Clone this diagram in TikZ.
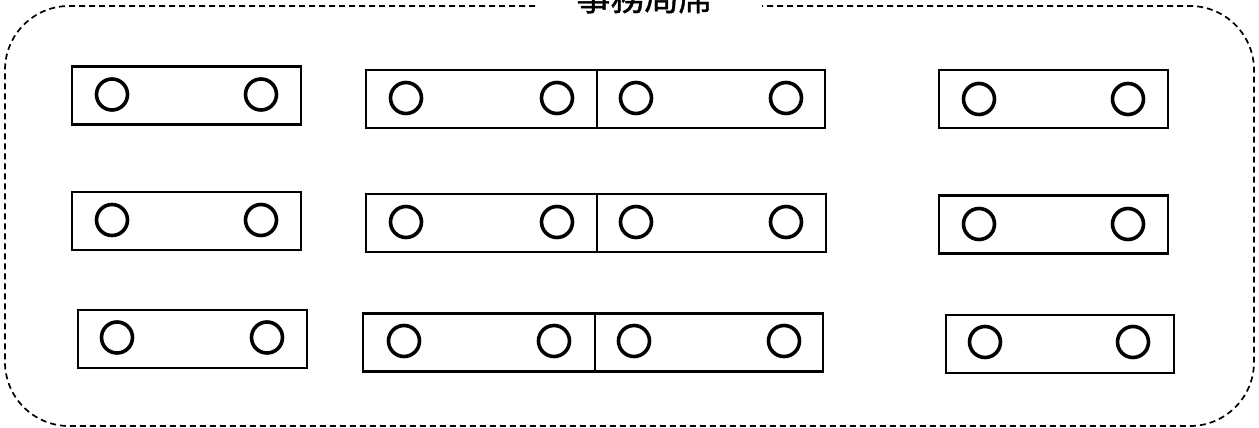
\documentclass[tikz,border=0pt]{standalone}
\usepackage{fontspec}
\newfontfamily\cjk[FakeBold=1.2]{Noto Sans CJK JP}
\begin{document}
\begin{tikzpicture}[x=1pt,y=-1pt,
  seat/.style={draw, line width=2.2pt, inner sep=0pt, minimum height=58pt},
  hole/.style={circle, draw, line width=3.6pt, minimum size=31pt, inner sep=0pt},
  frame/.style={dashed, dash pattern=on 6pt off 4pt, line width=1.7pt, rounded corners=64pt}]
\useasboundingbox (0,0) rectangle (1259,428);
% outer frame
\coordinate (fl) at (535,6);
\coordinate (fr) at (762,6);
\draw[frame] (fl) -- (5,6) -- (5,426) -- (1254,426) -- (1254,6) -- (fr);
\node[font=\cjk\fontsize{34pt}{40pt}\selectfont, anchor=base, inner sep=0pt] (title) at (644.5,10.5) {事務局席};
% row 1
\node[seat, minimum width=229pt] (a1) at (186.5,95.5) {};
\node[hole] (a1l) at (112,94.5) {};
\node[hole] (a1r) at (261,94.5) {};
\node[seat, minimum width=231pt] (b1l) at (481.5,99) {};
\node[seat, minimum width=228pt] (b1r) at (711,99) {};
\node[hole] (b1a) at (406,98) {};
\node[hole] (b1b) at (557,98) {};
\node[hole] (b1c) at (636,98) {};
\node[hole] (b1d) at (786,98) {};
\node[seat, minimum width=229pt] (c1) at (1053.5,99) {};
\node[hole] (c1l) at (979,99) {};
\node[hole] (c1r) at (1128,99) {};
% row 2
\node[seat, minimum width=229pt] (a2) at (186.5,221) {};
\node[hole] (a2l) at (112,220) {};
\node[hole] (a2r) at (261,220) {};
\node[seat, minimum width=231pt] (b2l) at (481.5,223) {};
\node[seat, minimum width=229pt] (b2r) at (711.5,223) {};
\node[hole] (b2a) at (406,222) {};
\node[hole] (b2b) at (557,222) {};
\node[hole] (b2c) at (636,222) {};
\node[hole] (b2d) at (786,222) {};
\node[seat, minimum width=229pt] (c2) at (1053.5,224.5) {};
\node[hole] (c2l) at (979,224) {};
\node[hole] (c2r) at (1128,224) {};
% row 3
\node[seat, minimum width=229pt] (a3) at (192.5,339) {};
\node[hole] (a3l) at (117,337.5) {};
\node[hole] (a3r) at (267,337.5) {};
\node[seat, minimum width=232pt] (b3l) at (479,342.5) {};
\node[seat, minimum width=228pt] (b3r) at (709,342.5) {};
\node[hole] (b3a) at (404,341) {};
\node[hole] (b3b) at (554,341) {};
\node[hole] (b3c) at (634,341) {};
\node[hole] (b3d) at (784,341) {};
\node[seat, minimum width=228pt] (c3) at (1060,344) {};
\node[hole] (c3l) at (985,342) {};
\node[hole] (c3r) at (1133,342) {};
\end{tikzpicture}
\end{document}
